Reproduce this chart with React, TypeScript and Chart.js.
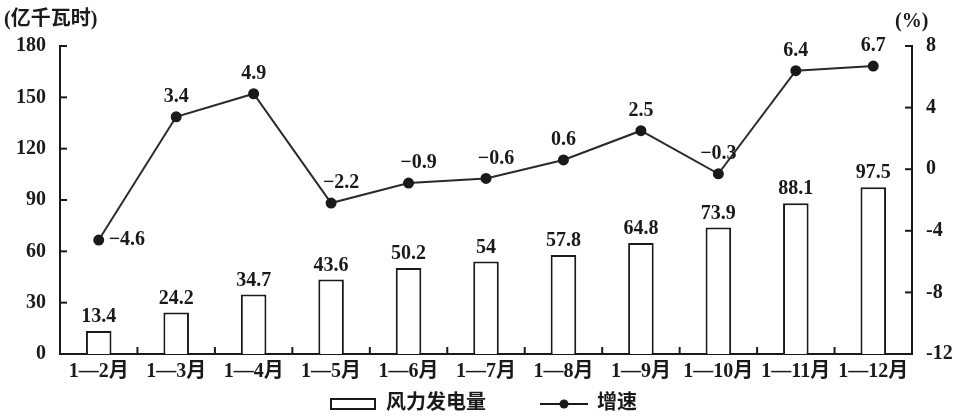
import React, { useEffect, useRef } from "react";
import { Chart, registerables } from "chart.js";

Chart.register(...registerables);

const categories = ["1—2月", "1—3月", "1—4月", "1—5月", "1—6月", "1—7月", "1—8月", "1—9月", "1—10月", "1—11月", "1—12月"];
const generation = [13.4, 24.2, 34.7, 43.6, 50.2, 54, 57.8, 64.8, 73.9, 88.1, 97.5];
const growth = [-4.6, 3.4, 4.9, -2.2, -0.9, -0.6, 0.6, 2.5, -0.3, 6.4, 6.7];
const leftTicks = [0, 30, 60, 90, 120, 150, 180];
const rightTicks = [-12, -8, -4, 0, 4, 8];
const seriesNames = ["风力发电量", "增速"];
const leftUnit = "(亿千瓦时)";
const rightUnit = "(%)";

const FONT = '"Liberation Serif", "Noto Sans CJK SC", serif';
const INK = "#1a1a1a";

const annotations = {
  id: "annotations",
  afterDatasetsDraw(chart: any) {
    const ctx = chart.ctx;
    const { left, right, top, bottom } = chart.chartArea;
    const xs = chart.scales.x;
    const ys = chart.scales.y;
    const ys1 = chart.scales.y1;
    ctx.save();
    ctx.strokeStyle = INK;
    ctx.fillStyle = INK;
    ctx.lineWidth = 2;
    const seg = (x1: number, y1: number, x2: number, y2: number) => {
      ctx.beginPath();
      ctx.moveTo(x1, y1);
      ctx.lineTo(x2, y2);
      ctx.stroke();
    };
    leftTicks.forEach((v) => {
      const py = ys.getPixelForValue(v);
      seg(left, py, left + 7, py);
    });
    rightTicks.forEach((v) => {
      const py = ys1.getPixelForValue(v);
      seg(right - 7, py, right, py);
    });
    for (let i = 1; i < categories.length; i++) {
      const px = (xs.getPixelForValue(i - 1) + xs.getPixelForValue(i)) / 2;
      seg(px, bottom, px, bottom - 7);
    }

    ctx.font = `bold 20px ${FONT}`;
    ctx.textAlign = "center";
    ctx.textBaseline = "bottom";
    const barMeta = chart.getDatasetMeta(0);
    barMeta.data.forEach((el: any, i: number) => {
      ctx.fillText(String(generation[i]), el.x, el.y - 4);
    });
    const lineMeta = chart.getDatasetMeta(1);
    const fmt = (v: number) => (v < 0 ? "−" + Math.abs(v) : String(v));
    lineMeta.data.forEach((el: any, i: number) => {
      if (i === 0) {
        ctx.textAlign = "left";
        ctx.textBaseline = "middle";
        ctx.fillText(fmt(growth[i]), el.x + 10, el.y);
      } else {
        ctx.textAlign = "center";
        ctx.textBaseline = "bottom";
        const dx = growth[i] < 0 && i !== 8 ? 10 : 0;
        ctx.fillText(fmt(growth[i]), el.x + dx, el.y - 10);
      }
    });

    // axis units
    ctx.textBaseline = "middle";
    ctx.textAlign = "left";
    ctx.fillText(leftUnit, 4, 20);
    ctx.fillText(rightUnit, 895, 22);

    // legend
    const ly = 404;
    ctx.lineWidth = 2;
    ctx.fillStyle = "#fff";
    ctx.fillRect(331, ly - 5, 44, 10);
    ctx.strokeRect(331, ly - 5, 44, 10);
    ctx.fillStyle = INK;
    ctx.textAlign = "left";
    ctx.fillText(seriesNames[0], 386, ly);
    seg(540, ly, 588, ly);
    ctx.beginPath();
    ctx.arc(564, ly, 4.5, 0, Math.PI * 2);
    ctx.fill();
    ctx.fillText(seriesNames[1], 597, ly);
    ctx.restore();
  },
};

export default function App() {
  const ref = useRef<HTMLCanvasElement | null>(null);
  useEffect(() => {
    if (!ref.current) return;
    const tickFont = { family: FONT, size: 20, weight: "bold" as const };
    const chart = new Chart(ref.current, {
      type: "bar",
      data: {
        labels: categories,
        datasets: [
          {
            type: "bar",
            label: seriesNames[0],
            data: generation,
            yAxisID: "y",
            backgroundColor: "#ffffff",
            borderColor: INK,
            borderWidth: 2,
            categoryPercentage: 1,
            barPercentage: 0.33,
            order: 2,
          },
          {
            type: "line",
            label: seriesNames[1],
            data: growth,
            yAxisID: "y1",
            borderColor: "#2a2a2a",
            borderWidth: 2,
            pointRadius: 4.5,
            pointBackgroundColor: INK,
            pointBorderColor: INK,
            tension: 0,
            order: 1,
          } as any,
        ],
      },
      options: {
        responsive: false,
        animation: false,
        devicePixelRatio: 1,
        layout: { padding: { top: 46, bottom: 34, left: 0, right: 0 } },
        plugins: { legend: { display: false }, tooltip: { enabled: false } },
        scales: {
          x: {
            grid: { display: false, drawTicks: false },
            border: { display: true, color: INK, width: 2 },
            ticks: { font: tickFont, color: INK, padding: 6, maxRotation: 0, autoSkip: false },
            afterFit: (s: any) => {
              s.height = 30;
            },
          },
          y: {
            position: "left",
            min: 0,
            max: 180,
            grid: { display: false, drawTicks: false },
            border: { display: true, color: INK, width: 2 },
            ticks: { stepSize: 30, font: tickFont, color: INK, padding: 14 },
            afterFit: (s: any) => {
              s.width = 60;
            },
          },
          y1: {
            position: "right",
            min: -12,
            max: 8,
            grid: { display: false, drawTicks: false },
            border: { display: true, color: INK, width: 2 },
            ticks: { stepSize: 4, font: tickFont, color: INK, padding: 14 },
            afterFit: (s: any) => {
              s.width = 55;
            },
          },
        },
      },
      plugins: [annotations],
    });
    return () => chart.destroy();
  }, []);
  return (
    <div style={{ position: "absolute", left: 0, top: 0, width: 967, height: 418, background: "#fff" }}>
      <canvas ref={ref} width={967} height={418} style={{ display: "block" }} />
    </div>
  );
}
